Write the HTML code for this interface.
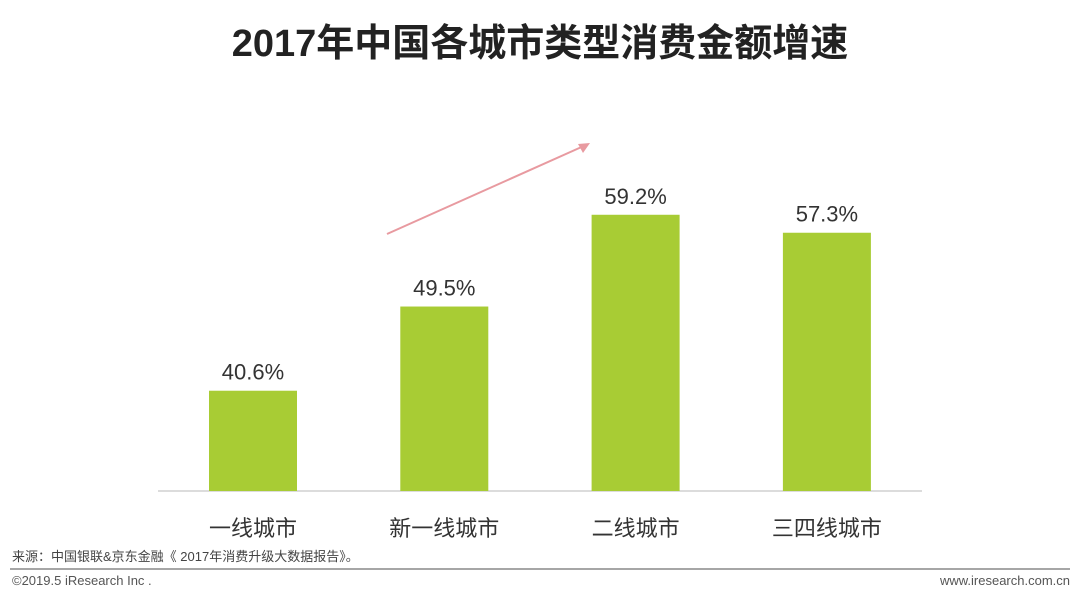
<!DOCTYPE html>
<html><head><meta charset="utf-8"><style>
body{margin:0;width:1080px;height:596px;background:#fff;overflow:hidden;font-family:"Liberation Sans","Noto Sans CJK SC",sans-serif}
</style></head><body>
<svg width="1080" height="596">
<text x="540" y="56" text-anchor="middle" font-size="38" font-weight="bold" fill="#222" font-family="Liberation Sans, Noto Sans CJK SC, sans-serif">2017年中国各城市类型消费金额增速</text>
<line x1="158" y1="491" x2="922" y2="491" stroke="#d0d0d0" stroke-width="1.5"/>
<line x1="387" y1="234" x2="586" y2="145" stroke="#e89aa0" stroke-width="2"/>
<polygon points="590,143 578,144 583,153" fill="#e89aa0"/>
<g id="bars"></g>
<text x="12" y="561" font-size="13" fill="#444">来源：中国银联&amp;京东金融《 2017年消费升级大数据报告》。</text>
<line x1="10" y1="569" x2="1070" y2="569" stroke="#888" stroke-width="1.5"/>
<text x="12" y="585" font-size="13" fill="#555">©2019.5 iResearch Inc .</text>
<text x="1070" y="585" font-size="13" fill="#555" text-anchor="end">www.iresearch.com.cn</text>
</svg>
<script>
const categories=["一线城市","新一线城市","二线城市","三四线城市"];
const values=[40.6,49.5,59.2,57.3];
const labels=["40.6%","49.5%","59.2%","57.3%"];
const base=491,yMin=30,scale=9.46;
function y(v){return base-(v-yMin)*scale;}
function xc(i){return 253+i*191.3;}
const g=document.getElementById('bars'),ns="http://www.w3.org/2000/svg";
categories.forEach((c,i)=>{
 const r=document.createElementNS(ns,'rect');
 r.setAttribute('x',xc(i)-44);r.setAttribute('y',y(values[i]));
 r.setAttribute('width',88);r.setAttribute('height',base-y(values[i]));
 r.setAttribute('fill','#a8cc34');
 
 
 g.appendChild(r);
 const t=document.createElementNS(ns,'text');
 t.setAttribute('x',xc(i));t.setAttribute('y',y(values[i])-11);
 t.setAttribute('text-anchor','middle');t.setAttribute('font-size','22');t.setAttribute('fill','#333');
 t.textContent=labels[i];
 
 
 g.appendChild(t);
 const l=document.createElementNS(ns,'text');
 l.setAttribute('x',xc(i));l.setAttribute('y',536);
 l.setAttribute('text-anchor','middle');l.setAttribute('font-size','22');l.setAttribute('fill','#333');
 l.textContent=c;
 
 
 g.appendChild(l);
});
</script>
</body></html>
